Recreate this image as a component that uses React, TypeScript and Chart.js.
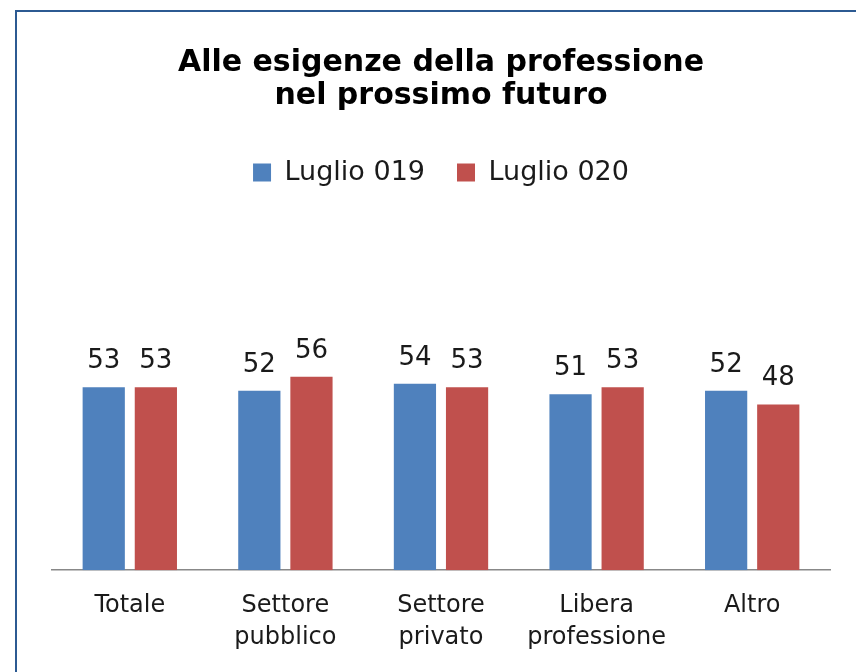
import React, { useEffect, useRef } from "react";
import { Chart, registerables } from "chart.js";

Chart.register(...registerables);

const categories: (string | string[])[] = [
  "Totale",
  ["Settore", "pubblico"],
  ["Settore", "privato"],
  ["Libera", "professione"],
  "Altro",
];
const seriesNames = ["Luglio 019", "Luglio 020"];
const luglio019 = [53, 52, 54, 51, 52];
const luglio020 = [53, 56, 53, 53, 48];
const titleLines = ["Alle esigenze della professione", "nel prossimo futuro"];

const FONT = "'DejaVu Sans', 'Open Sans', sans-serif";

const valueLabels = {
  id: "valueLabels",
  afterDatasetsDraw(chart: any) {
    const ctx = chart.ctx;
    ctx.save();
    ctx.font = `26px ${FONT}`;
    ctx.fillStyle = "#1a1a1a";
    ctx.textAlign = "center";
    ctx.textBaseline = "alphabetic";
    chart.data.datasets.forEach((ds: any, i: number) => {
      const meta = chart.getDatasetMeta(i);
      meta.data.forEach((el: any, j: number) => {
        ctx.fillText(String(ds.data[j]), el.x, el.y - 19);
      });
    });
    ctx.restore();
  },
};

const legendGap = {
  id: "legendGap",
  beforeInit(chart: any) {
    const legend = chart.legend;
    if (!legend) return;
    const origFit = legend.fit;
    legend.fit = function () {
      origFit.call(this);
      this.height += 29;
    };
  },
};

export default function App() {
  const ref = useRef<HTMLCanvasElement | null>(null);
  useEffect(() => {
    if (!ref.current) return;
    const chart = new Chart(ref.current, {
      type: "bar",
      data: {
        labels: categories,
        datasets: [
          { label: seriesNames[0], data: luglio019, backgroundColor: "#4f81bd" },
          { label: seriesNames[1], data: luglio020, backgroundColor: "#c0504d" },
        ],
      },
      options: {
        animation: false,
        responsive: false,
        maintainAspectRatio: false,
        layout: { padding: { left: 52, right: 26, top: 47, bottom: -2 } },
        datasets: { bar: { categoryPercentage: 0.67, barPercentage: 0.81 } },
        plugins: {
          title: {
            display: true,
            text: titleLines,
            color: "#000",
            font: { family: FONT, size: 30, weight: "bold", lineHeight: 1.1 },
            padding: { top: 0, bottom: 14 },
          },
          legend: {
            display: true,
            position: "top",
            labels: {
              color: "#1a1a1a",
              font: { family: FONT, size: 27 },
              boxWidth: 18,
              boxHeight: 18,
              padding: 32,
            },
          },
          tooltip: { enabled: false },
        },
        scales: {
          x: {
            grid: { display: false, drawTicks: false },
            border: { display: true, color: "#888888", width: 1.5 },
            ticks: {
              color: "#1a1a1a",
              font: { family: FONT, size: 24, lineHeight: 1.33 },
              padding: 20,
              maxRotation: 0,
              autoSkip: false,
            },
          },
          y: {
            display: false,
            min: 0,
            max: 100,
          },
        },
      },
      plugins: [valueLabels, legendGap],
    });
    return () => chart.destroy();
  }, []);
  return (
    <div
      style={{
        position: "fixed",
        left: 0,
        top: 0,
        width: 856,
        height: 672,
        overflow: "hidden",
        background: "#fff",
      }}
    >
      <div
        style={{
          position: "absolute",
          left: 15,
          top: 10,
          width: 900,
          height: 720,
          borderLeft: "2px solid #2c5a92",
          borderTop: "2px solid #2c5a92",
        }}
      />
      <canvas
        ref={ref}
        width={856}
        height={672}
        style={{ position: "absolute", left: 0, top: 0, width: 856, height: 672 }}
      />
    </div>
  );
}
